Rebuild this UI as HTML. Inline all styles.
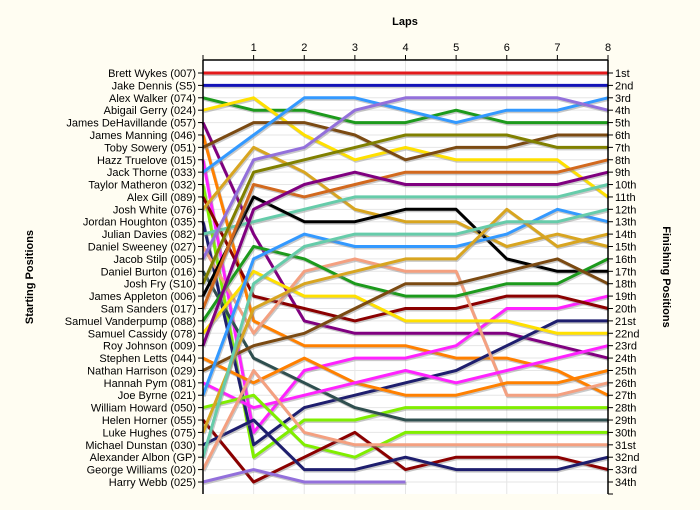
<!DOCTYPE html>
<html><head><meta charset="utf-8">
<style>
body{margin:0;background:#fffdf2;}
svg{display:block;font-family:"Liberation Sans",sans-serif;}
</style></head>
<body>
<svg id="chart" width="700" height="510" viewBox="0 0 700 510" xmlns="http://www.w3.org/2000/svg">
<rect x="0" y="0" width="700" height="510" fill="#fffdf2"/>
<rect x="203" y="60" width="405" height="434" fill="#ffffff"/>
<g id="grid"></g>
<g id="series"></g>
<g id="axes"></g>
<text x="405" y="25" font-size="11" font-weight="bold" text-anchor="middle">Laps</text>
<text transform="translate(33,277) rotate(-90)" font-size="11" font-weight="bold" text-anchor="middle">Starting Positions</text>
<text transform="translate(663,277) rotate(90)" font-size="11" font-weight="bold" text-anchor="middle">Finishing Positions</text>
</svg>
<script>
const laps = [0,1,2,3,4,5,6,7,8];
const lapLabels = ["1","2","3","4","5","6","7","8"];
const drivers = ["Brett Wykes (007)","Jake Dennis (S5)","Alex Walker (074)","Abigail Gerry (024)","James DeHavillande (057)","James Manning (046)","Toby Sowery (051)","Hazz Truelove (015)","Jack Thorne (033)","Taylor Matheron (032)","Alex Gill (089)","Josh White (076)","Jordan Houghton (035)","Julian Davies (082)","Daniel Sweeney (027)","Jacob Stilp (005)","Daniel Burton (016)","Josh Fry (S10)","James Appleton (006)","Sam Sanders (017)","Samuel Vanderpump (088)","Samuel Cassidy (078)","Roy Johnson (009)","Stephen Letts (044)","Nathan Harrison (029)","Hannah Pym (081)","Joe Byrne (021)","William Howard (050)","Helen Horner (055)","Luke Hughes (075)","Michael Dunstan (030)","Alexander Albon (GP)","George Williams (020)","Harry Webb (025)"];
const finishLabels = ["1st","2nd","3rd","4th","5th","6th","7th","8th","9th","10th","11th","12th","13th","14th","15th","16th","17th","18th","19th","20th","21st","22nd","23rd","24th","25th","26th","27th","28th","29th","30th","31st","32nd","33rd","34th"];
const colors = ["#e31a1c","#1414b8","#1c9a1c","#ffe000","#800080","#ff8000","#7b4a12","#ff22ff","#3399ff","#80ee00","#8b0000","#d8a520","#1e1e6e","#66ccaa","#f4a080","#9370db","#2f4f4f","#808000","#000000","#d2691e","#1c9a1c","#ffe000","#800080","#ff8000","#7b4a12","#ff22ff","#3399ff","#80ee00","#8b0000","#d8a520","#1e1e6e","#66ccaa","#f4a080","#9370db"];
const p01 = [1,1,1,1,1,1,1,1,1];
const p02 = [2,2,2,2,2,2,2,2,2];
const p03 = [3,4,4,5,5,4,5,5,5];
const p04 = [4,3,6,8,7,8,8,8,11];
const p05 = [5,14,21,22,22,22,22,23,24];
const p06 = [6,21,23,23,23,24,24,25,27];
const p07 = [7,5,5,6,8,7,7,6,6];
const p08 = [8,30,25,24,24,23,20,20,19];
const p09 = [9,6,3,3,4,5,4,4,3];
const p10 = [10,32,29,29,28,28,28,28,28];
const p11 = [11,19,20,21,20,20,19,19,20];
const p12 = [12,7,9,12,13,13,15,14,15];
const p13 = [13,31,28,27,26,25,23,21,21];
const p14 = [14,13,12,11,11,11,11,11,10];
const p15 = [15,22,17,16,17,17,27,27,26];
const p16 = [16,8,7,4,3,3,3,3,4];
const p17 = [17,24,26,28,29,29,29,29,29];
const p18 = [18,9,8,7,6,6,6,7,7];
const p19 = [19,11,13,13,12,12,16,17,17];
const p20 = [20,10,11,10,9,9,9,9,8];
const p21 = [21,15,16,18,19,19,18,18,16];
const p22 = [22,17,19,19,21,21,21,22,22];
const p23 = [23,12,10,9,10,10,10,10,9];
const p24 = [24,26,24,26,27,27,26,26,25];
const p25 = [25,23,22,20,18,18,17,16,18];
const p26 = [26,28,27,26,25,26,25,24,23];
const p27 = [27,16,14,15,15,15,14,12,13];
const p28 = [28,27,31,32,30,30,30,30,30];
const p29 = [29,34,32,30,33,32,32,32,33];
const p30 = [30,20,18,17,16,16,12,15,14];
const p31 = [31,29,33,33,32,33,33,33,32];
const p32 = [32,18,15,14,14,14,13,13,12];
const p33 = [33,25,30,31,31,31,31,31,31];
const p34 = [34,33,34,34,34];
const positions = [p01,p02,p03,p04,p05,p06,p07,p08,p09,p10,p11,p12,p13,p14,p15,p16,p17,p18,p19,p20,p21,p22,p23,p24,p25,p26,p27,p28,p29,p30,p31,p32,p33,p34];

const NS = "http://www.w3.org/2000/svg";
const X0 = 203, X1 = 608, Y0 = 73, Y1 = 482;
function xScale(l){ return X0 + (X1 - X0) * l / 8; }
function yScale(p){ return Y0 + (Y1 - Y0) * (p - 1) / 33; }
function mk(tag, attrs, parent){ const e = document.createElementNS(NS, tag); for (const k in attrs) e.setAttribute(k, attrs[k]); parent.appendChild(e); return e; }

const grid = document.getElementById('grid');
const axes = document.getElementById('axes');
const series = document.getElementById('series');

for (let i = 0; i < drivers.length; i++) {
  const y = yScale(i + 1);
  const g = mk('line', {x1: X0, x2: X1, y1: y, y2: y, stroke: '#e6e6e6', 'stroke-width': 1}, grid);
  
  
}
for (let l = 1; l < 8; l++) {
  const x = xScale(l);
  const g = mk('line', {x1: x, x2: x, y1: 60, y2: 494, stroke: '#e6e6e6', 'stroke-width': 1}, grid);
  
  
}

positions.forEach((arr, i) => {
  const pts = arr.map((p, j) => xScale(laps[j]).toFixed(1) + ',' + yScale(p).toFixed(1)).join(' ');
  const sh = mk('polyline', {points: pts, fill: 'none', stroke: '#888', 'stroke-opacity': 0.45, 'stroke-width': 3, transform: 'translate(1,1.5)', 'stroke-linejoin': 'round'}, series);
  
  
  const pl = mk('polyline', {points: pts, fill: 'none', stroke: colors[i], 'stroke-width': 3, 'stroke-linejoin': 'round'}, series);
  
  
});

// axes
let a = mk('line', {x1: X0, x2: X0, y1: 60, y2: 494, stroke: '#000', 'stroke-width': 1.5}, axes);


a = mk('line', {x1: X1, x2: X1, y1: 60, y2: 494, stroke: '#000', 'stroke-width': 1.5}, axes);


a = mk('line', {x1: X0, x2: X1, y1: 60, y2: 60, stroke: '#000', 'stroke-width': 1.5}, axes);



lapLabels.forEach((lab, i) => {
  const x = xScale(i + 1);
  const t = mk('line', {x1: x, x2: x, y1: 55, y2: 60, stroke: '#000', 'stroke-width': 1}, axes);
  
  
  const tx = mk('text', {x: x, y: 51, 'font-size': 11, 'text-anchor': 'middle'}, axes);
  tx.textContent = lab;
  
  
});
let t0 = mk('line', {x1: X0, x2: X0, y1: 55, y2: 60, stroke: '#000', 'stroke-width': 1}, axes);



drivers.forEach((d, i) => {
  const y = yScale(i + 1);
  const tk = mk('line', {x1: X0 - 5, x2: X0, y1: y, y2: y, stroke: '#000', 'stroke-width': 1}, axes);
  
  
  const tx = mk('text', {x: X0 - 7, y: y + 4, 'font-size': 11, 'text-anchor': 'end'}, axes);
  tx.textContent = d;
  
  
});
finishLabels.forEach((f, i) => {
  const y = yScale(i + 1);
  const tk = mk('line', {x1: X1, x2: X1 + 5, y1: y, y2: y, stroke: '#000', 'stroke-width': 1}, axes);
  
  
  const tx = mk('text', {x: X1 + 7, y: y + 4, 'font-size': 11, 'text-anchor': 'start'}, axes);
  tx.textContent = f;
  
  
});
let bt = mk('line', {x1: X1, x2: X1 + 5, y1: 494, y2: 494, stroke: '#000', 'stroke-width': 1}, axes);


</script>
</body></html>
